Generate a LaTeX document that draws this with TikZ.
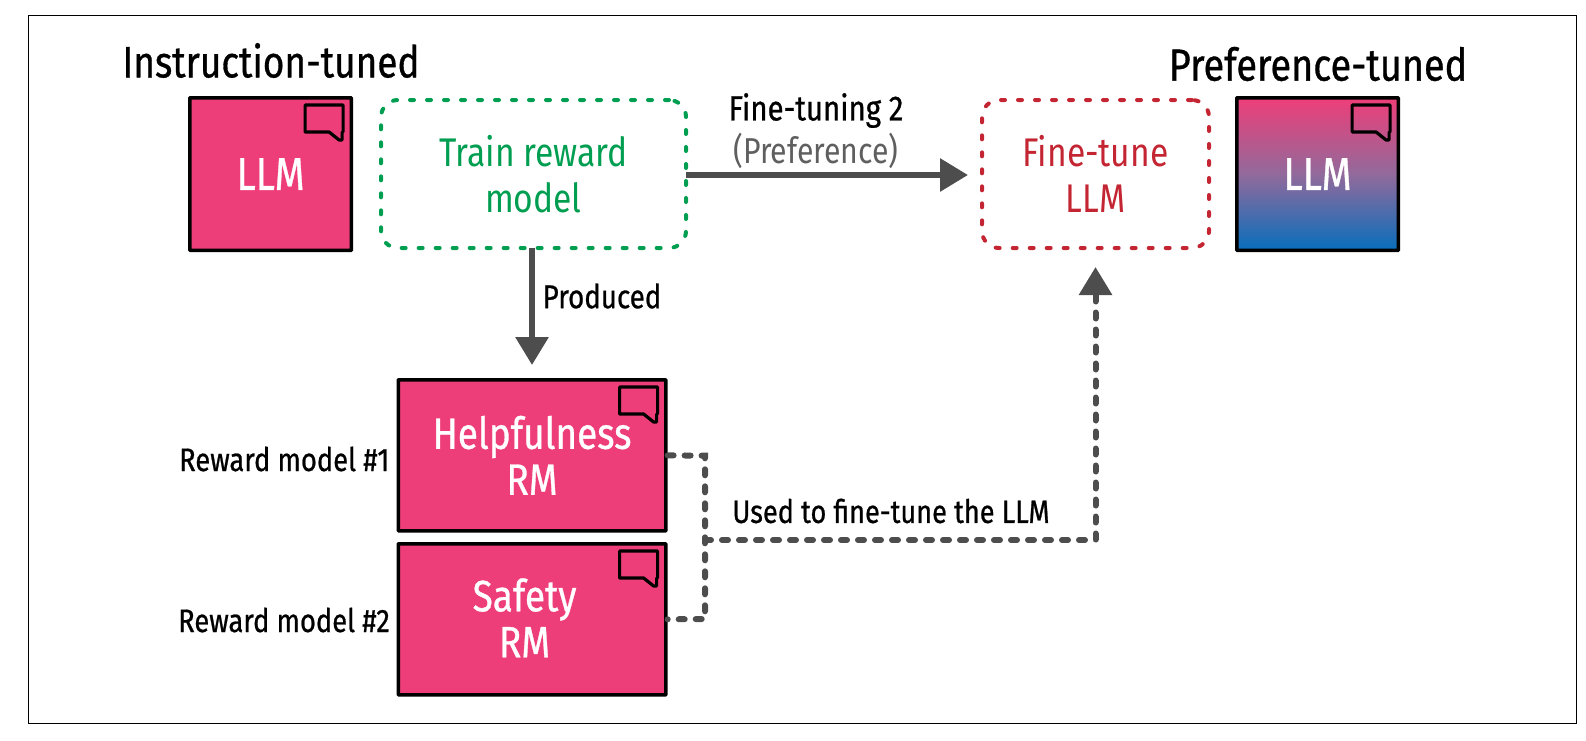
\documentclass[tikz,border=0pt]{standalone}
\usepackage{fontspec}
\setmainfont[FakeStretch=0.84]{Fira Sans}
\newfontfamily\medf[FakeStretch=0.84,FakeBold=0.7]{Fira Sans}
\usetikzlibrary{arrows.meta,positioning,calc}
\definecolor{pinkc}{RGB}{238,62,121}
\definecolor{bluec}{RGB}{8,110,188}
\definecolor{midc}{RGB}{146,106,155}
\definecolor{greenc}{RGB}{0,158,80}
\definecolor{redc}{RGB}{196,37,50}
\definecolor{grayc}{RGB}{77,77,77}
\definecolor{labgray}{RGB}{95,95,95}
\tikzset{
  x=1pt,y=-1pt,
  modelbox/.style={draw=black,line width=3.6pt,fill=pinkc,text=white,align=center,minimum width=#1,inner sep=0pt,anchor=north west,rounded corners=0.6pt},
  dotbox/.style={line width=4pt,line cap=round,dash pattern=on 4pt off 13pt,rounded corners=17pt,align=center,inner sep=0pt,minimum height=148pt,anchor=north west,outer sep=0pt},
  solidarrow/.style={draw=grayc,line width=6pt,-{Triangle[length=28pt,width=32pt]}},
  dashline/.style={draw=grayc,line width=6pt,line cap=round,dash pattern=on 6pt off 11pt},
  dasharrow/.style={dashline,-{Triangle[length=28pt,width=32pt]}},
  lab/.style={inner sep=0pt,align=center},
  bubble/.pic={\draw[black,line width=3.2pt,line join=round,line cap=round] (-48,9)--(-10,9)--(-10,36)--(-11,36)--(-11,44)--(-14,44)--(-24,36)--(-48,36)--cycle;}
}
\begin{document}
\begin{tikzpicture}
\useasboundingbox (0,0) rectangle (1586,740);
\draw[black,line width=1pt] (28.3,15.2) rectangle (1576,723);

\node[lab,font=\medf\fontsize{44}{46}\selectfont] (t1) at (271,60.5) {Instruction-tuned};
\node[lab,font=\medf\fontsize{45}{47}\selectfont] (t2) at (1318,64) {Preference-tuned};

\node[modelbox=161.5pt,minimum height=152.5pt,font=\medf\fontsize{46}{48}\selectfont] (l1) at (188,96) {LLM};
\pic at (l1.north east) {bubble};

\node[dotbox,draw=greenc,text=greenc,minimum width=305pt,font=\fontsize{40}{46}\selectfont] (tr) at (381,100) {Train reward\\model};
\node[dotbox,draw=redc,text=redc,minimum width=227pt,font=\fontsize{40}{46}\selectfont] (ft) at (982,100) {Fine-tune\\LLM};

\node[modelbox=161.5pt,minimum height=152.5pt,draw=black,shade,top color=pinkc,bottom color=bluec,middle color=midc,font=\medf\fontsize{46}{48}\selectfont] (l2) at (1235,96) {LLM};
\pic at (l2.north east) {bubble};

\node[modelbox=267.5pt,minimum height=151pt,font=\medf\fontsize{44}{46}\selectfont] (hm) at (396.5,378) {Helpfulness\\RM};
\pic at (hm.north east) {bubble};
\node[modelbox=267.5pt,minimum height=151pt,font=\medf\fontsize{44}{46}\selectfont] (sm) at (396.5,542) {\raisebox{3pt}{\hspace{-15pt}Safety}\\\raisebox{3pt}{\hspace{-15pt}RM}};
\pic at (sm.north east) {bubble};

\node[lab,font=\medf\fontsize{32.5}{34}\selectfont,anchor=east] (r1) at (389.5,459) {Reward model \#1};
\node[lab,font=\medf\fontsize{32.5}{34}\selectfont,anchor=east] (r2) at (390,620) {Reward model \#2};

\node[lab,font=\medf\fontsize{35}{38}\selectfont] (f2) at (816,110.5) {Fine-tuning 2};
\node[lab,text=labgray,font=\fontsize{36}{38}\selectfont] (pf) at (816,151) {(Preference)};
\node[lab,font=\medf\fontsize{33}{34}\selectfont] (pr) at (602,296) {Produced};
\node[lab,font=\medf\fontsize{32.3}{34}\selectfont] (us) at (891,511) {Used to fine-tune the LLM};

\draw[solidarrow,shorten >=14pt] (tr.east |- 0,175) -- (ft.west |- 0,175);
\draw[solidarrow,shorten >=13pt] (tr.south -| 532,0) -- (hm.north -| 532,0);

\coordinate (j) at (705,540);
\coordinate (jt) at (705,455.7);
\coordinate (jb) at (705,619);
\draw[dashline] (hm.east) -- (jt) -- (jb) -- (sm.east);
\draw[dasharrow,shorten >=19pt] (j) -| (ft.south);
\end{tikzpicture}
\end{document}
